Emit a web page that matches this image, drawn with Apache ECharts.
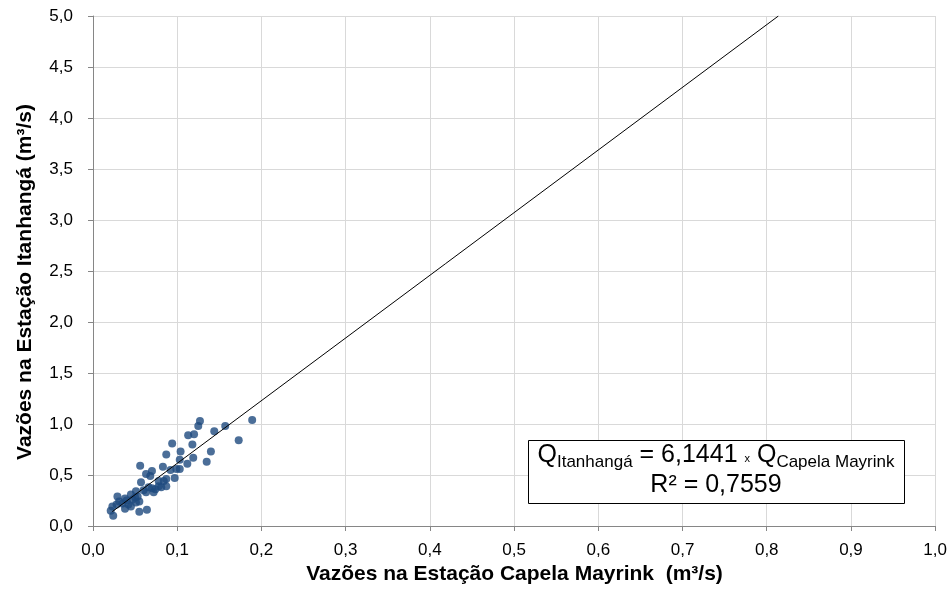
<!DOCTYPE html>
<html>
<head>
<meta charset="utf-8">
<script src="https://cdn.jsdelivr.net/npm/echarts@6/dist/echarts.min.js"></script>
<style>
  html, body { margin: 0; padding: 0; background: #fff; overflow: hidden; }
  #chart { width: 950px; height: 590px; }
</style>
</head>
<body>
<div id="chart"></div>
<script>
// Vazões observadas (m³/s): Capela Mayrink (x) vs Itanhangá (y)
const capelaMayrink = [
  0.189, 0.173, 0.157, 0.144, 0.140, 0.135, 0.127, 0.125, 0.120, 0.113,
  0.118, 0.119, 0.112, 0.104, 0.103, 0.103, 0.094, 0.087, 0.092, 0.097,
  0.083, 0.070, 0.068, 0.063, 0.056, 0.057, 0.087, 0.084, 0.087, 0.081,
  0.078, 0.074, 0.070, 0.072, 0.063, 0.053, 0.051, 0.055, 0.050, 0.047,
  0.051, 0.038, 0.029, 0.031, 0.042, 0.038, 0.023, 0.021, 0.024, 0.055,
  0.064, 0.045, 0.066, 0.060, 0.045, 0.035, 0.028, 0.078, 0.099, 0.040
];
const itanhanga = [
  1.04, 0.84, 0.98, 0.93, 0.73, 0.63, 1.03, 0.98, 0.90, 0.89,
  0.80, 0.67, 0.61, 0.73, 0.65, 0.56, 0.81, 0.70, 0.55, 0.47,
  0.58, 0.54, 0.49, 0.51, 0.59, 0.43, 0.46, 0.44, 0.39, 0.38,
  0.39, 0.36, 0.37, 0.33, 0.33, 0.29, 0.34, 0.24, 0.28, 0.26,
  0.23, 0.27, 0.29, 0.24, 0.21, 0.17, 0.19, 0.15, 0.10, 0.14,
  0.16, 0.19, 0.38, 0.35, 0.31, 0.22, 0.21, 0.44, 0.56, 0.25
];

// Linha de tendência (passando pela origem) e coeficiente de determinação
const slope = 6.1441;
const rSquared = 0.7559;
const trendStartX = 0.0229;

// Eixos
const xMin = 0, xMax = 1.0, xStep = 0.1;
const yMin = 0, yMax = 5.0, yStep = 0.5;
const xTitle = 'Vazões na Estação Capela Mayrink  (m³/s)';
const yTitle = 'Vazões na Estação Itanhangá (m³/s)';

const fontFamily = '"Liberation Sans", Arial, sans-serif';
const ptDecimal = (v, d) => v.toFixed(d).replace('.', ',');

const points = capelaMayrink.map((x, i) => [x, itanhanga[i]]);
const trendEndX = yMax / slope;
const trend = [[trendStartX, slope * trendStartX], [trendEndX, slope * trendEndX]];

const chart = echarts.init(document.getElementById('chart'), null, { renderer: 'canvas' });

const axisLabelStyle = { color: '#000', fontSize: 17, fontFamily: fontFamily };
const titleStyle = { fill: '#000', fontSize: 21, fontWeight: 'bold', fontFamily: fontFamily };

chart.setOption({
  animation: false,
  backgroundColor: '#fff',
  grid: { left: 93, right: 14, top: 16, bottom: 64, containLabel: false },
  xAxis: {
    type: 'value',
    min: xMin, max: xMax, interval: xStep,
    axisLine: { show: true, lineStyle: { color: '#868686', width: 1 } },
    axisTick: { show: true, length: 5, lineStyle: { color: '#868686' } },
    splitLine: { show: true, lineStyle: { color: '#d9d9d9', width: 1 } },
    axisLabel: { ...axisLabelStyle, margin: 16, formatter: v => ptDecimal(v, 1) }
  },
  yAxis: {
    type: 'value',
    min: yMin, max: yMax, interval: yStep,
    axisLine: { show: true, lineStyle: { color: '#868686', width: 1 } },
    axisTick: { show: true, length: 5, lineStyle: { color: '#868686' } },
    splitLine: { show: true, lineStyle: { color: '#d9d9d9', width: 1 } },
    axisLabel: { ...axisLabelStyle, margin: 20, formatter: v => ptDecimal(v, 1) }
  },
  series: [
    {
      type: 'scatter',
      data: points,
      symbol: 'circle',
      symbolSize: 8,
      itemStyle: { color: '#1e4a7e' },
      z: 2
    },
    {
      type: 'line',
      data: trend,
      showSymbol: false,
      symbol: 'none',
      lineStyle: { color: '#000', width: 1 },
      clip: true,
      z: 3
    }
  ],
  graphic: [
    {
      type: 'text',
      x: 514.5, y: 574,
      style: { ...titleStyle, text: xTitle, align: 'center', verticalAlign: 'middle' }
    },
    {
      type: 'text',
      x: 25, y: 282,
      rotation: Math.PI / 2,
      style: { ...titleStyle, text: yTitle, align: 'center', verticalAlign: 'middle' }
    },
    {
      type: 'rect',
      left: 528, top: 440,
      shape: { width: 376, height: 63 },
      style: { fill: '#fff', stroke: '#000', lineWidth: 1 },
      z: 10
    },
    {
      type: 'text',
      x: 716, y: 470.5,
      z: 11,
      style: {
        text: '{q|Q}{sub|Itanhangá}{eq| = ' + ptDecimal(slope, 4) + ' }{x|x}{eq| Q}{sub|Capela Mayrink}\n' +
              '{eq|R² = ' + ptDecimal(rSquared, 4) + '}',
        align: 'center',
        verticalAlign: 'middle',
        fill: '#000',
        fontFamily: fontFamily,
        rich: {
          q: { fontSize: 25, lineHeight: 30, fontFamily: fontFamily, fill: '#000' },
          eq: { fontSize: 25, lineHeight: 30, fontFamily: fontFamily, fill: '#000' },
          sub: { fontSize: 17, lineHeight: 17, verticalAlign: 'bottom', fontFamily: fontFamily, fill: '#000' },
          x: { fontSize: 11, lineHeight: 11, verticalAlign: 'bottom', padding: [0, 0, 6, 0], fontFamily: fontFamily, fill: '#000' }
        }
      }
    }
  ]
});
</script>
</body>
</html>
